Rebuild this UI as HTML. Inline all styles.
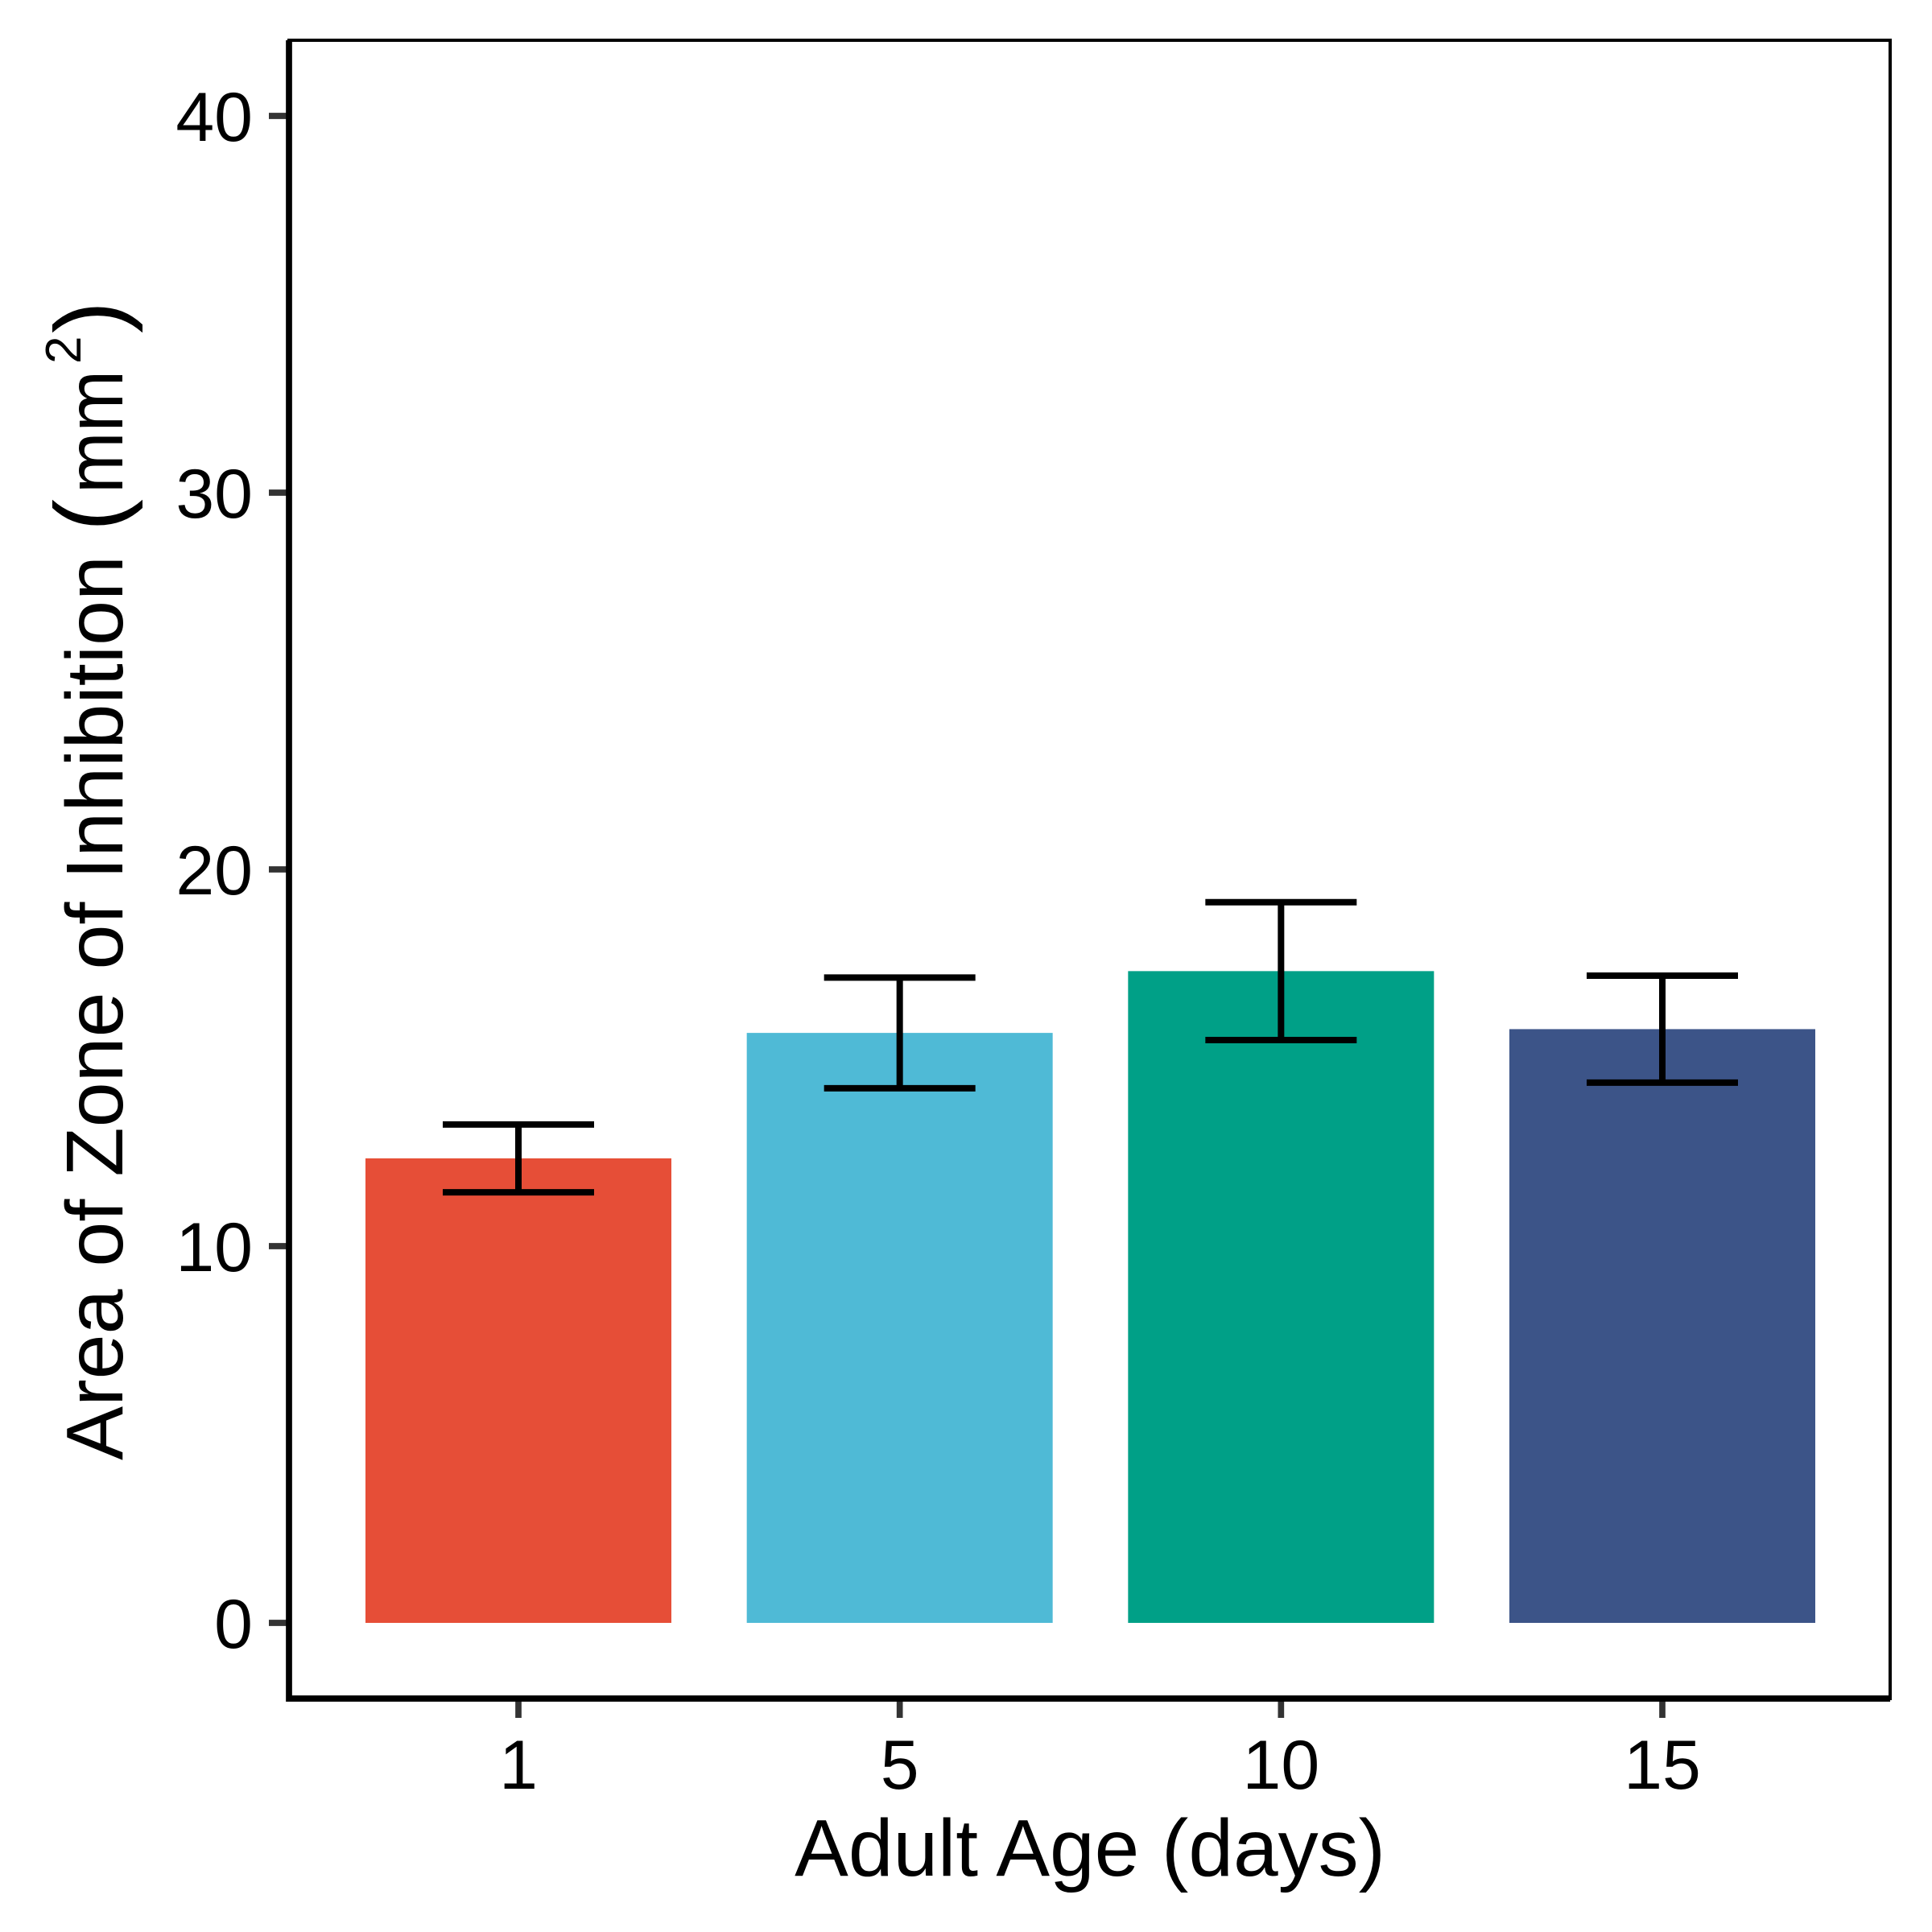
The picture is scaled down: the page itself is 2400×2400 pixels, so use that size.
<!DOCTYPE html>
<html><head><meta charset="utf-8"><style>html,body{margin:0;padding:0;background:#fff}svg{display:block}</style></head>
<body>
<svg id="chart" width="2400" height="2400" viewBox="0 0 2400 2400" xmlns="http://www.w3.org/2000/svg" font-family="'Liberation Sans', Arial, sans-serif">
<rect x="0" y="0" width="2400" height="2400" fill="#fff"/>
<g id="bars"></g>
<g id="errs"></g>
<g id="axes"></g>
<text x="1354" y="2330" font-size="100" text-anchor="middle" fill="#000">Adult Age (days)</text>
<g transform="translate(152,0) rotate(-90)" fill="#000">
  <text x="-1814" y="0" font-size="100" textLength="1124" lengthAdjust="spacingAndGlyphs">Area of Zone of Inhibition</text>
  <text x="-660" y="0" font-size="120">(</text>
  <text x="-613" y="0" font-size="100" textLength="153" lengthAdjust="spacingAndGlyphs">mm</text>
  <text x="-452" y="-52" font-size="62">2</text>
  <text x="-414" y="0" font-size="120">)</text>
</g>
</svg>
<script>
const categories = ["1", "5", "10", "15"];
const means = [12.33, 15.66, 17.30, 15.76];
const errors = [0.90, 1.47, 1.83, 1.42];
const colors = ["#E64E37", "#4FBAD6", "#00A087", "#3C5488"];
const yTicks = [0, 10, 20, 30, 40];

const NS = "http://www.w3.org/2000/svg";
const plotLeft = 359, plotRight = 2348, plotTop = 50, plotBottom = 2110;
const y0px = 2016, perUnit = 46.8;
function yScale(v){ return y0px - v * perUnit; }
const xStart = 644, xStep = (2065 - 644) / 3;
function xScale(i){ return xStart + i * xStep; }
const barW = 380, capHalf = 94;

function mk(tag, attrs, parent){ const e = document.createElementNS(NS, tag); for (const k in attrs) e.setAttribute(k, attrs[k]); parent.appendChild(e); return e; }

const gb = document.getElementById('bars'), ge = document.getElementById('errs'), ga = document.getElementById('axes');
categories.forEach((c, i) => {
  const cx = xScale(i), yt = yScale(means[i]);
  const r = mk('rect', {x: cx - barW/2, y: yt, width: barW, height: y0px - yt, fill: colors[i]}, gb);
  
  
  const hi = yScale(means[i] + errors[i]), lo = yScale(means[i] - errors[i]);
  const p = mk('path', {d: `M${cx-capHalf},${hi}H${cx+capHalf}M${cx},${hi}V${lo}M${cx-capHalf},${lo}H${cx+capHalf}`, stroke: '#000', 'stroke-width': 8, fill: 'none'}, ge);
  
  
  const t = mk('line', {x1: cx, x2: cx, y1: plotBottom, y2: plotBottom + 24, stroke: '#333', 'stroke-width': 7.7}, ga);
  
  
  const l = mk('text', {x: cx, y: 2222, 'font-size': 86, 'text-anchor': 'middle', fill: '#000'}, ga);
  l.textContent = c;
  
  
});
yTicks.forEach(v => {
  const y = yScale(v);
  const t = mk('line', {x1: plotLeft - 25, x2: plotLeft, y1: y, y2: y, stroke: '#333', 'stroke-width': 7.7}, ga);
  
  
  const l = mk('text', {x: 314, y: y + 31, 'font-size': 86, 'text-anchor': 'end', fill: '#000'}, ga);
  l.textContent = v;
  
  
});
const frame = mk('rect', {x: plotLeft, y: plotTop, width: plotRight - plotLeft, height: plotBottom - plotTop, fill: 'none', stroke: '#000', 'stroke-width': 4}, ga);


const axes = mk('path', {d: `M${plotLeft},${plotTop}V${plotBottom}H${plotRight}`, stroke: '#000', 'stroke-width': 7.7, fill: 'none'}, ga);


</script>
</body></html>
